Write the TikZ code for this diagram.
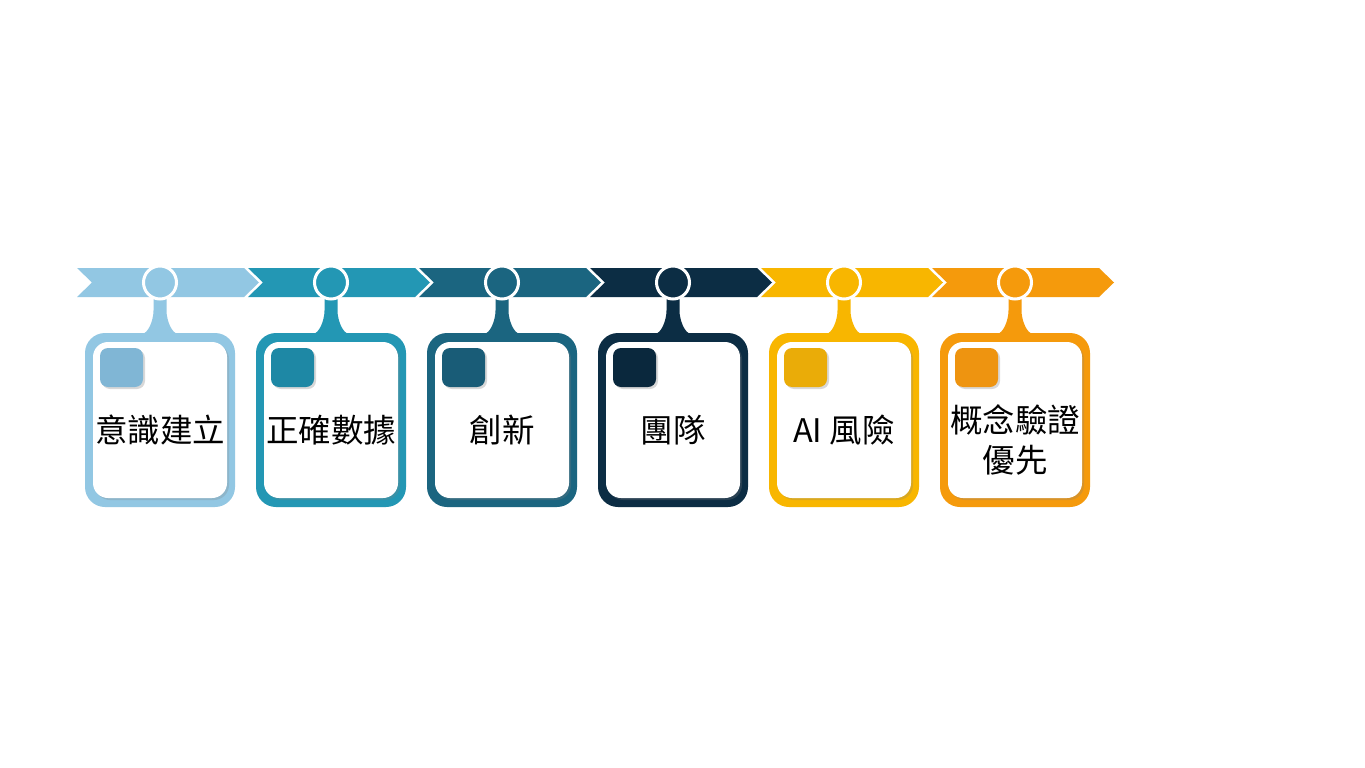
\documentclass[tikz,border=0pt]{standalone}
\usepackage{fontspec}
\newfontfamily\cjk{Noto Sans CJK TC}
\usetikzlibrary{calc, shadows}
\definecolor{segA}{HTML}{92C7E3}
\definecolor{segB}{HTML}{2397B4}
\definecolor{segC}{HTML}{1B6580}
\definecolor{segD}{HTML}{0C2D44}
\definecolor{segE}{HTML}{F8B600}
\definecolor{segF}{HTML}{F59A0C}
\definecolor{sqA}{HTML}{80B6D5}
\definecolor{sqB}{HTML}{1E88A5}
\definecolor{sqC}{HTML}{195C77}
\definecolor{sqD}{HTML}{0A283D}
\definecolor{sqE}{HTML}{EAAC08}
\definecolor{sqF}{HTML}{EE9410}
\tikzset{
  band/.style={fill=#1},
  cardframe/.style={fill=#1, rounded corners=20pt, minimum width=150pt, minimum height=174pt, inner sep=0pt},
  cardface/.style={fill=white, rounded corners=15pt, minimum width=134pt, minimum height=156pt, inner sep=0pt,
    drop shadow={shadow xshift=2pt, shadow yshift=-2pt, opacity=.25}},
  marker/.style={fill=#1, rounded corners=8pt, minimum width=43pt, minimum height=39pt, inner sep=0pt,
    drop shadow={shadow xshift=2pt, shadow yshift=-2pt, opacity=.3}},
  dot/.style={circle, fill=#1, draw=white, line width=3pt, minimum size=33pt, inner sep=0pt},
  lbl/.style={font=\cjk\fontsize{32.5}{40}\selectfont, align=center, inner sep=0pt}
}

\begin{document}
\begin{tikzpicture}[x=1pt, y=-1pt]
    \useasboundingbox[fill=white] (0,0) rectangle (1365,768);
    \foreach \i/\col/\sq/\txt/\ty in {0/segA/sqA/意識建立/430, 1/segB/sqB/正確數據/430, 2/segC/sqC/創新/430,
                                      3/segD/sqD/團隊/430, 4/segE/sqE/AI 風險/430, 5/segF/sqF/{概念驗證\\優先}/440} {
        \pgfmathsetmacro{\xo}{77+171*\i}
        \pgfmathsetmacro{\cx}{\xo+83}
        \fill[band=\col] (\xo,268) -- (\xo+167,268) -- (\xo+182,282.5) -- (\xo+167,297) -- (\xo,297) -- (\xo+15,282.5) -- cycle;
        \coordinate (hub\i) at (\cx,282.5);
        \node[cardframe=\col] (card\i) at (\cx,420) {};
        \fill[\col] ($(hub\i)+(-6.5,14)$) -- ($(hub\i)+(-6.5,28)$) .. controls +(0,10) and +(6,0) .. ($(card\i.north)+(-18,1)$)
            -- ($(card\i.north)+(18,1)$) .. controls +(-6,0) and +(0,10) .. ($(hub\i)+(6.5,28)$) -- ($(hub\i)+(6.5,14)$) -- cycle;
        \node[cardface] (face\i) at (card\i.center) {};
        \node[marker=\sq] (mark\i) at (\cx-38.5,367.5) {};
        \node[dot=\col] (dot\i) at (hub\i) {};
        \node[lbl] (txt\i) at (\cx,\ty) {\txt};
    }
\end{tikzpicture}
\end{document}
